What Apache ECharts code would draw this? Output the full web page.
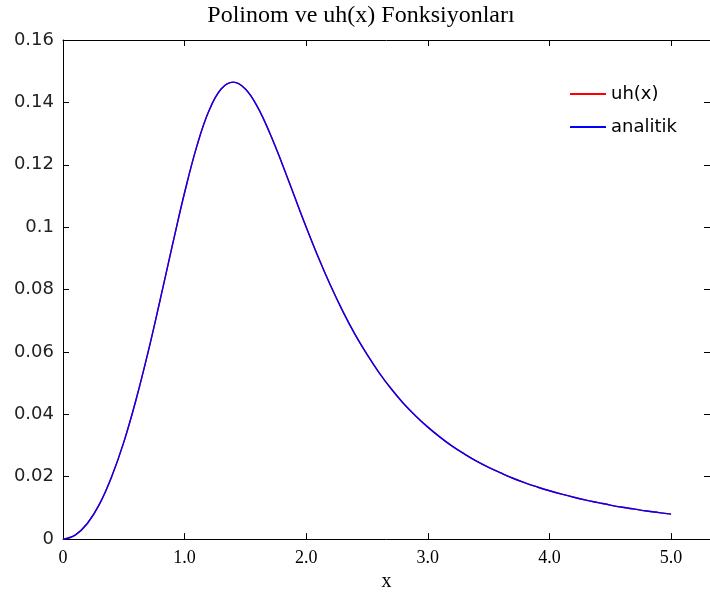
<!DOCTYPE html>
<html>
<head>
<meta charset="utf-8">
<script src="https://cdn.jsdelivr.net/npm/echarts@6/dist/echarts.min.js"></script>
<style>html,body{margin:0;padding:0;background:#fff}#c{width:710px;height:597px}</style>
</head>
<body>
<div id="c"></div>
<script>
var xValues = [0,0.1,0.2,0.3,0.4,0.5,0.6,0.7,0.8,0.9,1.0,1.1,1.2,1.3,1.4,1.5,1.6,1.7,1.8,1.9,2.0,2.1,2.2,2.3,2.4,2.5,2.6,2.7,2.8,2.9,3.0,3.1,3.2,3.3,3.4,3.5,3.6,3.7,3.8,3.9,4.0,4.1,4.2,4.3,4.4,4.5,4.6,4.7,4.8,4.9,5.0];
var uhValues = [0,0.0013,0.0050,0.0112,0.0200,0.0311,0.0446,0.0600,0.0769,0.0943,0.1111,0.1259,0.1373,0.1443,0.1465,0.1443,0.1385,0.1302,0.1205,0.1102,0.1000,0.0903,0.0813,0.0731,0.0657,0.0592,0.0533,0.0481,0.0435,0.0395,0.0359,0.0327,0.0298,0.0273,0.0250,0.0230,0.0212,0.0195,0.0180,0.0167,0.0155,0.0144,0.0134,0.0125,0.0117,0.0109,0.0102,0.0096,0.0090,0.0085,0.0080];
var analitikValues = [0,0.0013,0.0050,0.0112,0.0200,0.0311,0.0446,0.0600,0.0769,0.0943,0.1111,0.1259,0.1373,0.1443,0.1465,0.1443,0.1385,0.1302,0.1205,0.1102,0.1000,0.0903,0.0813,0.0731,0.0657,0.0592,0.0533,0.0481,0.0435,0.0395,0.0359,0.0327,0.0298,0.0273,0.0250,0.0230,0.0212,0.0195,0.0180,0.0167,0.0155,0.0144,0.0134,0.0125,0.0117,0.0109,0.0102,0.0096,0.0090,0.0085,0.0080];
var seriesNames = ['uh(x)', 'analitik'];
var titleText = 'Polinom ve uh(x) Fonksiyonları';
var xName = 'x';

function pairs(xs, ys){ return xs.map(function(x,i){ return [x, ys[i]]; }); }

var X_MIN = 0, X_MAX = 5.32, X_INT = 1;
var Y_MIN = 0, Y_MAX = 0.16, Y_INT = 0.02;

var chart = echarts.init(document.getElementById('c'), null, {renderer:'canvas'});
var axisLineStyle = {color:'#000', width:1};
function frameAxis(extra){
  var base = {
    type: 'value',
    axisLine: {show: true, onZero: false, lineStyle: axisLineStyle},
    axisTick: {show: true, inside: true, length: 6, lineStyle: axisLineStyle},
    splitLine: {show: false}
  };
  for (var k in extra) base[k] = extra[k];
  return base;
}
chart.setOption({
  animation: false,
  backgroundColor: '#fff',
  title: {
    text: titleText, left: 356, top: -1, textAlign: 'center',
    textStyle: {fontFamily: 'Liberation Serif', fontWeight: 'normal', fontSize: 24, color: '#000'}
  },
  legend: {
    data: seriesNames, orient: 'vertical', left: 565, top: 79,
    icon: 'rect', itemWidth: 36, itemHeight: 2, itemGap: 13,
    textStyle: {fontFamily: 'DejaVu Sans', fontSize: 18, color: '#000', lineHeight: 20}
  },
  grid: {left: 63, top: 40, right: -2, bottom: 56, containLabel: false},
  xAxis: [frameAxis({
    min: X_MIN, max: X_MAX, interval: X_INT, position: 'bottom',
    name: xName, nameLocation: 'middle', nameGap: 28,
    nameTextStyle: {fontFamily: 'Liberation Serif', fontSize: 20, color: '#000'},
    axisLabel: {
      margin: 10, fontFamily: 'Liberation Serif', fontSize: 18, color: '#000', showMaxLabel: false,
      formatter: function(v){ if (Math.abs(v - Math.round(v)) > 1e-9) return ''; return v === 0 ? '0' : v.toFixed(1); }
    }
  }), frameAxis({
    min: X_MIN, max: X_MAX, interval: X_INT, position: 'top', axisLabel: {show: false}
  })],
  yAxis: [frameAxis({
    min: Y_MIN, max: Y_MAX, interval: Y_INT, position: 'left',
    axisLabel: {
      margin: 9, fontFamily: 'DejaVu Sans', fontSize: 18, color: '#222',
      formatter: function(v){ return v === 0 ? '0' : String(parseFloat(v.toFixed(2))); }
    }
  }), frameAxis({
    min: Y_MIN, max: Y_MAX, interval: Y_INT, position: 'right', axisLabel: {show: false}
  })],
  series: [{
    name: seriesNames[0], type: 'line', xAxisIndex: 0, yAxisIndex: 0,
    data: pairs(xValues, uhValues), showSymbol: false, symbol: 'none', smooth: 0.4,
    color: '#ff0000', lineStyle: {color: '#ff0000', width: 1.4}
  }, {
    name: seriesNames[1], type: 'line', xAxisIndex: 0, yAxisIndex: 0,
    data: pairs(xValues, analitikValues), showSymbol: false, symbol: 'none', smooth: 0.4,
    color: '#0000ff', lineStyle: {color: '#0000ff', width: 1.4}
  }]
});
</script>
</body>
</html>
